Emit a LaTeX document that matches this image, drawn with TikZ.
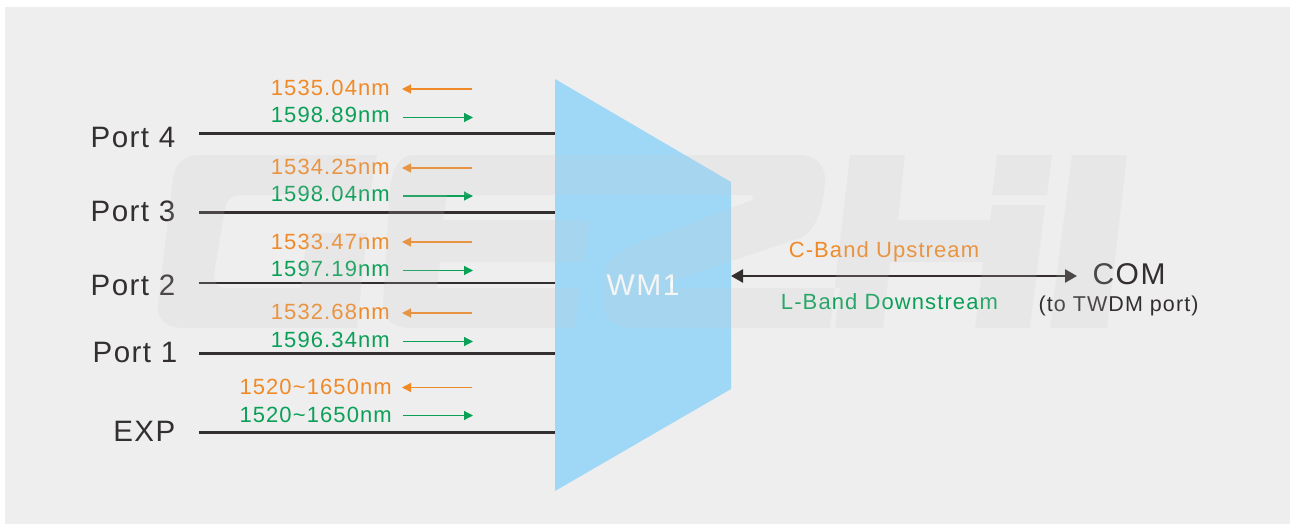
\documentclass[tikz,border=0pt]{standalone}
\usepackage{fontspec}
\setmainfont{Liberation Sans}[LetterSpace=5]
\usetikzlibrary{arrows.meta}
\definecolor{bgc}{HTML}{EEEEEE}
\definecolor{blu}{HTML}{9FD8F7}
\definecolor{org}{HTML}{F08A28}
\definecolor{grn}{HTML}{0BA057}
\definecolor{drk}{HTML}{332F2F}
\definecolor{wmk}{HTML}{C8C8C8}
\tikzset{
  x=1pt,y=-1pt,
  fibre/.style={draw=drk,line width=2.4pt},
  wave/.style={inner sep=0pt,anchor=base east,font=\fontsize{22}{24}\selectfont},
  upw/.style={wave,text=org},
  dnw/.style={wave,text=grn},
  upa/.style={draw=org,line width=1.2pt,-{Triangle[length=9pt,width=9pt]}},
  dna/.style={draw=grn,line width=1.2pt,-{Triangle[length=9pt,width=9pt]}},
  port/.style={inner sep=0pt,anchor=base east,text=drk,font=\fontsize{29.5}{32}\selectfont},
  band/.style={inner sep=0pt,anchor=base,font=\fontsize{22}{24}\selectfont},
}
\begin{document}
\begin{tikzpicture}
\useasboundingbox (0,0) rectangle (1290,524);
\fill[bgc] (5,7) rectangle (1290,524);
\fill[blu] (555,79) -- (731,182) -- (731,389) -- (555,491) -- cycle;
\foreach \n/\y in {p4/133.5,p3/212.5,p2/283.2,p1/353.5,ex/432.5}{
  \coordinate (\n L) at (199,\y);
  \coordinate (\n R) at (555,\y);
  \draw[fibre] (\n L) -- (\n R);
}
\node[port] (n4) at (175.5,147) {Port 4};
\node[port] (n3) at (175.5,221.7) {Port 3};
\node[port] (n2) at (175.5,295.5) {Port 2};
\node[port] (n1) at (177.5,362) {Port 1};
\node[port] (nx) at (175.5,441.7) {EXP};
\node[upw] (u4) at (390,95.3) {1535.04nm};
\node[dnw] (d4) at (390,123) {1598.89nm};
\node[upw] (u3) at (390,174) {1534.25nm};
\node[dnw] (d3) at (390,201.7) {1598.04nm};
\node[upw] (u2) at (390,249) {1533.47nm};
\node[dnw] (d2) at (390,276) {1597.19nm};
\node[upw] (u1) at (390,319) {1532.68nm};
\node[dnw] (d1) at (390,347.3) {1596.34nm};
\node[upw] (ux) at (392,394) {1520\char`~1650nm};
\node[dnw] (dx) at (392,422) {1520\char`~1650nm};
\foreach \n/\y in {u4/89,u3/168,u2/242,u1/313,ux/387.5}{
  \coordinate (\n a) at (472,\y);
  \coordinate (\n b) at (402,\y);
  \draw[upa] (\n a) -- (\n b);
}
\foreach \n/\y in {d4/117.5,d3/196,d2/270.5,d1/341.5,dx/415.5}{
  \coordinate (\n a) at (403,\y);
  \coordinate (\n b) at (473,\y);
  \draw[dna] (\n a) -- (\n b);
}
\node[inner sep=0pt,anchor=base,text=white,font=\fontsize{30}{30}\selectfont] (wl) at (643,295.7) {WM1};
\coordinate (cl) at (731,276);
\coordinate (cr) at (1077,276);
\draw[draw=drk,line width=2.6pt,{Triangle[length=12pt,width=13pt]}-{Triangle[length=12pt,width=13pt]}] (cl) -- (cr);
\node[band,text=org] (cb) at (884,257.7) {C-Band Upstream};
\node[band,text=grn] (lb) at (889.5,309) {L-Band Downstream};
\node[inner sep=0pt,anchor=base,text=drk,font=\fontsize{30}{32}\selectfont] (com) at (1129,284) {COM};
\node[inner sep=0pt,anchor=base,text=drk,font=\fontsize{21.5}{24}\selectfont] (twd) at (1118.5,311.7) {(to TWDM port)};
% watermark logo, lying over everything
\fill[wmk,opacity=.17]
  % first letter
  (377,155) -- (200,155) .. controls (182,155) and (175,165) .. (173,178)
  -- (158,305) .. controls (156,320) and (168,328) .. (183,328)
  -- (357,328) -- (367,233) -- (307,233) -- (301,288)
  -- (225,288) .. controls (216,288) and (213,280) .. (215,268)
  -- (225,208) .. controls (227,199) and (232,195) .. (240,195)
  -- (370,195) -- cycle
  % second and third letters, joined along the top
  (413,155) .. controls (398,155) and (392,172) .. (390,188)
  -- (383,305) .. controls (382,320) and (395,328) .. (410,328)
  -- (575,328) -- (580,288) -- (437,288) -- (440,262) -- (585,262) -- (590,220)
  -- (443,220) -- (447,195) -- (745,195) .. controls (755,195) and (756,198) .. (750,201)
  -- (640,242) .. controls (615,252) and (604,262) .. (603,280)
  -- (603,305) .. controls (604,320) and (615,328) .. (633,328)
  -- (835,328) -- (840,288) -- (672,288) .. controls (664,288) and (664,284) .. (672,281)
  -- (800,238) .. controls (815,232) and (823,210) .. (825,182)
  .. controls (826,165) and (815,155) .. (800,155) -- cycle
  % fourth letter
  (850,155) -- (905,155) -- (898,220) -- (990,220) -- (992,205) -- (1045,205)
  -- (1030,328) -- (975,328) -- (983,262) -- (890,262) -- (883,328) -- (830,328) -- cycle
  (997,155) -- (1052,155) -- (1047,195) -- (992,195) -- cycle
  % fifth letter
  (1072,155) -- (1127,155) -- (1107,328) -- (1050,328) -- cycle;
\end{tikzpicture}
\end{document}
